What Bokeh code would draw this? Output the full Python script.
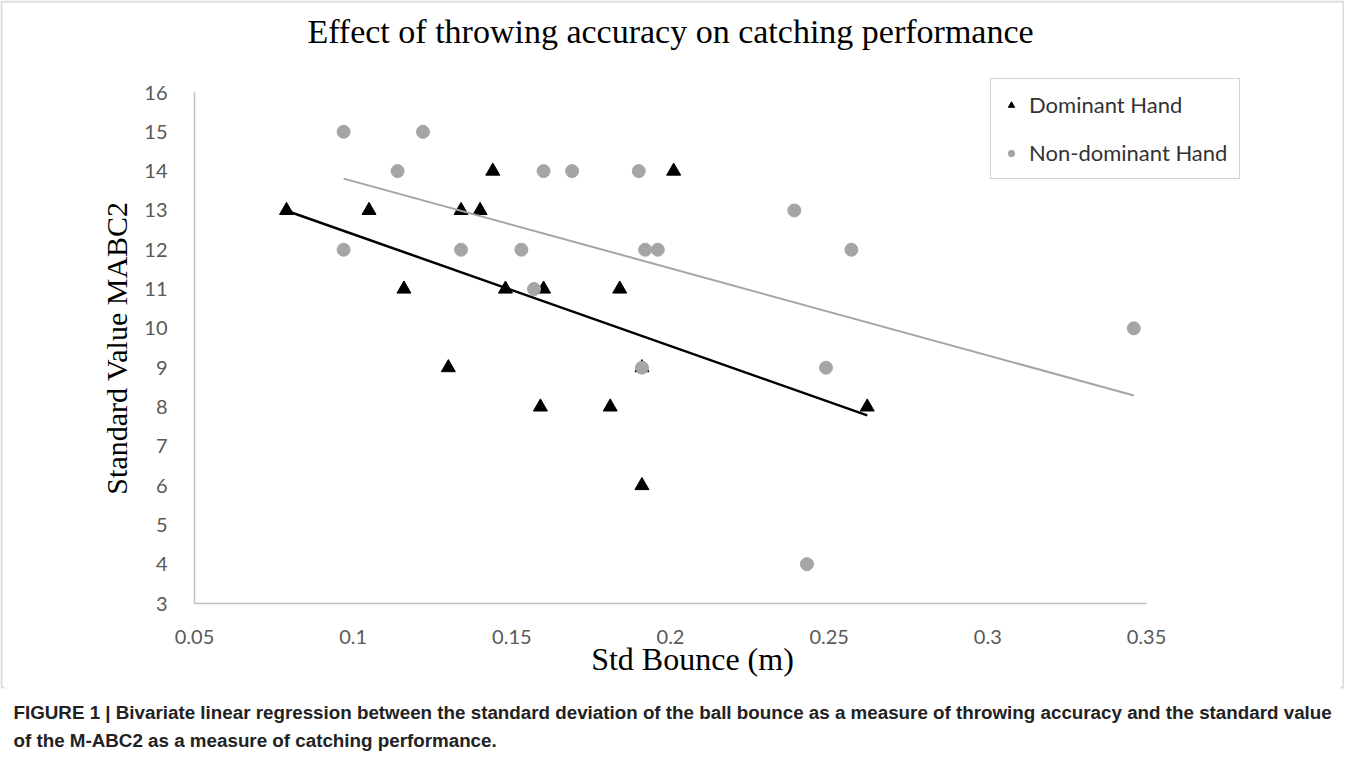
import numpy as np
from bokeh.plotting import figure
from bokeh.models import (Range1d, Legend, LegendItem, Label, BoxAnnotation,
                          FixedTicker, NumeralTickFormatter)
from bokeh.embed import file_html
from bokeh.resources import INLINE

# ---------------- data ----------------
title_text = "Effect of throwing accuracy on catching performance"
x_title = "Std Bounce (m)"
y_title = "Standard Value MABC2"
caption_1 = ("FIGURE 1 | Bivariate linear regression between the standard deviation of the ball bounce "
             "as a measure of throwing accuracy and the standard value")
caption_2 = "of the M-ABC2 as a measure of catching performance."

series_names = ["Dominant Hand", "Non-dominant Hand"]

dom_x = [0.079, 0.105, 0.116, 0.130, 0.134, 0.140, 0.144, 0.148, 0.159, 0.160,
         0.181, 0.184, 0.191, 0.191, 0.201, 0.262]
dom_y = [13, 13, 11, 9, 13, 13, 14, 11, 8, 11, 8, 11, 9, 6, 14, 8]

nondom_x = [0.097, 0.097, 0.114, 0.122, 0.134, 0.153, 0.157, 0.160, 0.169, 0.190,
            0.191, 0.192, 0.196, 0.239, 0.243, 0.249, 0.257, 0.346]
nondom_y = [15, 12, 14, 15, 12, 12, 11, 14, 14, 14, 9, 12, 12, 13, 4, 9, 12, 10]

x_min, x_max = 0.05, 0.35
y_min, y_max = 3, 16
x_ticks = [0.05, 0.10, 0.15, 0.20, 0.25, 0.30, 0.35]
y_ticks = list(range(3, 17))


def fit_line(xs, ys):
    k, b = np.polyfit(np.array(xs), np.array(ys), 1)
    x0, x1 = min(xs), max(xs)
    return [x0, x1], [k * x0 + b, k * x1 + b]


# ---------------- layout (pixels inside the figure) ----------------
W, H = 1344, 753
AX_L, AX_R = 194, 1146      # pixel x of x_min / x_max
AX_T, AX_B = 92, 603        # pixel y of y_max / y_min (from top)
ppx = (AX_R - AX_L) / (x_max - x_min)
ppy = (AX_B - AX_T) / (y_max - y_min)
xr = Range1d(x_min - AX_L / ppx, x_max + (W - AX_R) / ppx)
yr = Range1d(y_min - (H - AX_B) / ppy, y_max + AX_T / ppy)

p = figure(width=W, height=H, output_backend="svg", toolbar_location=None,
           x_range=xr, y_range=yr, title=None,
           min_border_left=0, min_border_right=0, min_border_top=0, min_border_bottom=0,
           background_fill_color="white", border_fill_color="white")
p.outline_line_color = None
p.grid.visible = False


def sy(y_from_top):
    """screen y measured from the bottom of the frame"""
    return H - y_from_top


axis_col = "#bfbfbf"
tick_col = "#595959"
for ax in (p.xaxis[0], p.yaxis[0]):
    ax.axis_line_color = axis_col
    ax.axis_line_width = 1.5
    ax.major_tick_line_color = None
    ax.minor_tick_line_color = None
    ax.major_label_text_font = "Lato"
    ax.major_label_text_font_size = "20px"
    ax.major_label_text_color = tick_col

p.xaxis.fixed_location = y_min
p.xaxis.bounds = (x_min, x_max)
p.xaxis.ticker = FixedTicker(ticks=x_ticks)
p.xaxis.formatter = NumeralTickFormatter(format="0.0[0]")
p.xaxis.major_label_standoff = 20

p.yaxis.fixed_location = x_min
p.yaxis.bounds = (y_min, y_max)
p.yaxis.ticker = FixedTicker(ticks=y_ticks)
p.yaxis.major_label_standoff = 21
p.yaxis.axis_label = y_title
p.yaxis.axis_label_text_font = "Liberation Serif"
p.yaxis.axis_label_text_font_style = "normal"
p.yaxis.axis_label_text_font_size = "30px"
p.yaxis.axis_label_text_color = "#000000"
p.yaxis.axis_label_standoff = 8

# chart title and x-axis title
p.add_layout(Label(x=670, y=sy(31), x_units="screen", y_units="screen", text=title_text,
                   text_align="center", text_baseline="middle",
                   text_font="Liberation Serif", text_font_size="34px", text_color="#000000"))
p.add_layout(Label(x=692, y=sy(658), x_units="screen", y_units="screen", text=x_title,
                   text_align="center", text_baseline="middle",
                   text_font="Liberation Serif", text_font_size="32px", text_color="#000000"))

# ---------------- marks ----------------
tri = p.scatter(dom_x, dom_y, marker="triangle", size=14, fill_color="#000000",
                line_color="#000000")
cir = p.scatter(nondom_x, nondom_y, marker="circle", size=13, fill_color="#a5a5a5",
                line_color="#a5a5a5")

gx, gy = fit_line(nondom_x, nondom_y)
p.line(gx, gy, line_color="#a5a5a5", line_width=2)
bx, by = fit_line(dom_x, dom_y)
p.line(bx, by, line_color="#000000", line_width=2.5)

legend = Legend(items=[LegendItem(label=series_names[0], renderers=[tri]),
                       LegendItem(label=series_names[1], renderers=[cir])],
                location=(990, sy(179)), orientation="vertical",
                border_line_color="#a6a6a6", border_line_width=1.5,
                background_fill_color="white", background_fill_alpha=1,
                label_text_font="Lato", label_text_font_size="22px",
                label_text_color="#333333",
                padding=12, spacing=21, margin=0, glyph_width=16, glyph_height=24,
                label_height=24, label_width=197, label_standoff=10)
p.add_layout(legend, "center")

# outer frame (left / top / right) of the chart picture
p.add_layout(BoxAnnotation(left=1, right=W - 1, top=sy(1), bottom=sy(687),
                           left_units="screen", right_units="screen",
                           top_units="screen", bottom_units="screen",
                           fill_color=None, line_color="#808080", line_width=2))
p.add_layout(BoxAnnotation(left=4, right=W - 4, top=sy(684), bottom=sy(690),
                           left_units="screen", right_units="screen",
                           top_units="screen", bottom_units="screen",
                           fill_color="white", fill_alpha=1, line_color=None))

# figure caption
for txt, yy in ((caption_1, 712), (caption_2, 740)):
    p.add_layout(Label(x=13, y=sy(yy), x_units="screen", y_units="screen", text=txt,
                       text_align="left", text_baseline="middle",
                       text_font="Liberation Sans", text_font_style="bold",
                       text_font_size="18.8px", text_color="#222222"))

open("out.html", "w").write(file_html(p, INLINE))
